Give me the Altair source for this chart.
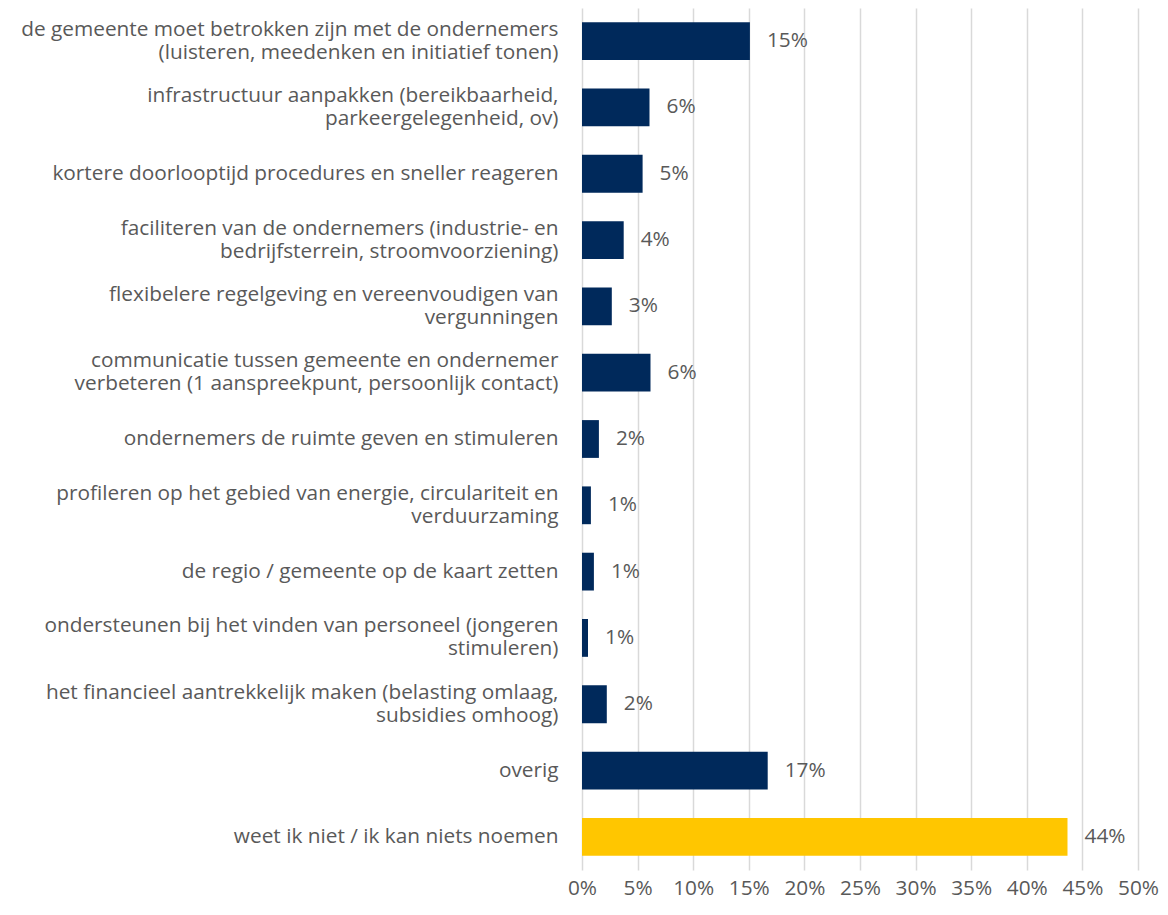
import altair as alt
import pandas as pd

categories = [
    "de gemeente moet betrokken zijn met de ondernemers|(luisteren, meedenken en initiatief tonen)",
    "infrastructuur aanpakken (bereikbaarheid,|parkeergelegenheid, ov)",
    "kortere doorlooptijd procedures en sneller reageren",
    "faciliteren van de ondernemers (industrie- en|bedrijfsterrein, stroomvoorziening)",
    "flexibelere regelgeving en vereenvoudigen van|vergunningen",
    "communicatie tussen gemeente en ondernemer |verbeteren (1 aanspreekpunt, persoonlijk contact)",
    "ondernemers de ruimte geven en stimuleren",
    "profileren op het gebied van energie, circulariteit en|verduurzaming",
    "de regio / gemeente op de kaart zetten",
    "ondersteunen bij het vinden van personeel (jongeren|stimuleren)",
    "het financieel aantrekkelijk maken (belasting omlaag,|subsidies omhoog)",
    "overig",
    "weet ik niet / ik kan niets noemen",
]
values = [0.151, 0.0607, 0.0545, 0.0375, 0.0268, 0.0616, 0.0152, 0.008, 0.0107, 0.0054, 0.0223, 0.167, 0.4366]
groups = ["main"] * 12 + ["dontknow"]

df = pd.DataFrame({"cat": categories, "value": values, "group": groups})

FONT = "Open Sans"
GRAY = "#595959"
FS = 20.8
LH = 23

base = alt.Chart(df).encode(
    y=alt.Y(
        "cat:N",
        sort=categories,
        title=None,
        scale=alt.Scale(paddingInner=0.43, paddingOuter=0.215),
        axis=alt.Axis(
            labelExpr="split(datum.label, '|')",
            labelOffset=alt.ExprRef(f"indexof(datum.label, '|') >= 0 ? {-LH / 2} : 0"),
            labelFont=FONT,
            labelFontSize=FS,
            labelColor=GRAY,
            labelPadding=24,
            labelLimit=700,
            labelLineHeight=LH,
            ticks=False,
            domain=False,
            grid=False,
        ),
    ),
)

bars = base.mark_bar().encode(
    x=alt.X(
        "value:Q",
        title=None,
        scale=alt.Scale(domain=[0, 0.5], nice=False),
        axis=alt.Axis(
            format=".0%",
            values=[i * 0.05 for i in range(11)],
            labelFont=FONT,
            labelFontSize=FS,
            labelColor=GRAY,
            labelPadding=8,
            labelFlush=False,
            ticks=False,
            domain=False,
            grid=True,
            gridColor="#D9D9D9",
            gridWidth=1.5,
        ),
    ),
    color=alt.Color(
        "group:N",
        scale=alt.Scale(domain=["main", "dontknow"], range=["#00295B", "#FFC600"]),
        legend=None,
    ),
)

labels = base.mark_text(
    align="left", baseline="middle", dx=17, font=FONT, fontSize=FS, color=GRAY
).encode(
    x="value:Q",
    text=alt.Text("value:Q", format=".0%"),
)

chart = (
    alt.layer(bars, labels)
    .properties(
        width=556,
        height=862,
        autosize=alt.AutoSizeParams(type="none"),
        padding={"left": 574, "top": 0, "right": 22, "bottom": 37},
    )
    .configure_view(stroke=None)
)

chart.save("out.html", embed_options={"renderer": "svg", "actions": False})
